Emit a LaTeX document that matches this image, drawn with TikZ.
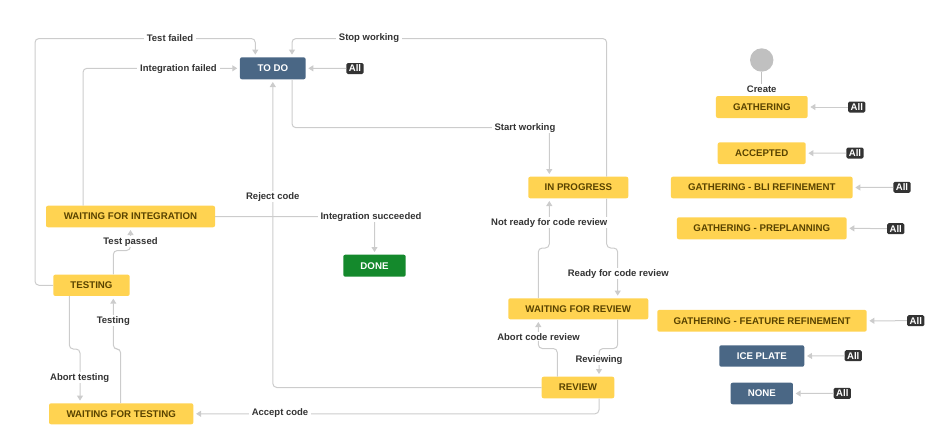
\documentclass[tikz,border=0pt]{standalone}
\usepackage{fontspec}
\setmainfont{Liberation Sans}
\usetikzlibrary{arrows.meta}
\definecolor{jyellow}{HTML}{FFD351}
\definecolor{jytext}{HTML}{594300}
\definecolor{jblue}{HTML}{4A6785}
\definecolor{jgreen}{HTML}{14892C}
\definecolor{jline}{HTML}{CCCCCC}
\definecolor{jlabel}{HTML}{333333}
\definecolor{jstart}{HTML}{C0C0C0}
\tikzset{
  state/.style={rounded corners=2pt, inner sep=0pt, font=\fontsize{9.7}{11}\selectfont\bfseries},
  ystate/.style={state, fill=jyellow, text=jytext},
  bstate/.style={state, fill=jblue, text=white},
  gstate/.style={state, fill=jgreen, text=white},
  conn/.style={draw=jline, line width=1pt, rounded corners=4pt, -{Triangle[width=6pt,length=5pt]}, shorten >=2.5pt},
  lbl/.style={fill=white, text=jlabel, inner xsep=3pt, inner ysep=1pt, font=\fontsize{9.5}{11}\selectfont\bfseries},
  badge/.style={fill=jlabel, text=white, rounded corners=1.5pt, inner xsep=2.5pt, inner ysep=0pt, minimum height=11pt, font=\fontsize{9.6}{10}\selectfont\bfseries},
}
\begin{document}
\begin{tikzpicture}[x=1pt,y=-1pt]
\useasboundingbox (0,0) rectangle (932,440);
% states
\node[bstate, minimum width=65.7pt, minimum height=22pt] (todo) at (272.8,68.3) {TO DO};
\node[ystate, minimum width=100pt, minimum height=21.6pt] (inprog) at (578.3,187.5) {IN PROGRESS};
\node[ystate, minimum width=140pt, minimum height=21pt] (wfr) at (578.3,308.8) {WAITING FOR REVIEW};
\node[ystate, minimum width=72.6pt, minimum height=21.6pt] (review) at (578,387.5) {REVIEW};
\node[ystate, minimum width=169pt, minimum height=21.6pt] (wfi) at (130.5,216.5) {WAITING FOR INTEGRATION};
\node[gstate, minimum width=62.4pt, minimum height=22pt] (done) at (374.5,265.7) {DONE};
\node[ystate, minimum width=76.4pt, minimum height=21.3pt] (testing) at (91.5,285.3) {TESTING};
\node[ystate, minimum width=144.3pt, minimum height=21pt] (wft) at (121.2,413.8) {WAITING FOR TESTING};
\node[ystate, minimum width=91.7pt, minimum height=22pt] (gath) at (761.8,107) {GATHERING};
\node[ystate, minimum width=88pt, minimum height=21.7pt] (acc) at (761.7,153.2) {ACCEPTED};
\node[ystate, minimum width=181.7pt, minimum height=21.6pt] (bli) at (761.8,187.5) {GATHERING - BLI REFINEMENT};
\node[ystate, minimum width=169.7pt, minimum height=22pt] (prep) at (761.8,228.3) {GATHERING - PREPLANNING};
\node[ystate, minimum width=209.4pt, minimum height=21.7pt] (feat) at (762,320.8) {GATHERING - FEATURE REFINEMENT};
\node[bstate, minimum width=85pt, minimum height=21.4pt] (ice) at (761.8,356) {ICE PLATE};
\node[bstate, minimum width=62.3pt, minimum height=21.6pt] (none) at (761.8,393.5) {NONE};
% start
\node[circle, fill=jstart, inner sep=0pt, minimum size=23.4pt] (start) at (761.7,60) {};
\node[text=jlabel, inner sep=1pt, font=\fontsize{9.5}{11}\selectfont\bfseries] (create) at (761.7,89) {Create};
\draw[draw=jstart, line width=1.2pt] (start.south) -- (create.north);
% badges
\node[badge] (allTodo) at (355,68.5) {All};
\node[badge] (allG) at (856.8,107) {All};
\node[badge] (allA) at (855,153) {All};
\node[badge] (allB) at (902,187.3) {All};
\node[badge] (allP) at (895.7,228.7) {All};
\node[badge] (allF) at (915.8,320.7) {All};
\node[badge] (allI) at (853.2,355.7) {All};
\node[badge] (allN) at (842.3,393.3) {All};
\draw[conn] (allTodo) -- (todo.east);
\draw[conn] (allG) -- (gath.east);
\draw[conn] (allA) -- (acc.east);
\draw[conn] (allB) -- (bli.east);
\draw[conn] (allP) -- (prep.east);
\draw[conn] (allF) -- (feat.east);
\draw[conn] (allI) -- (ice.east);
\draw[conn] (allN) -- (none.east);
% connectors
\draw[conn] (testing.west) -| (35,38.5) -| ([xshift=-17.5pt]todo.north);
\draw[conn] ([xshift=-47.5pt]wfi.north) |- (todo.west);
\draw[conn] ([xshift=28.4pt]inprog.north) |- (292,38.5) -- ([xshift=19.2pt]todo.north);
\draw[conn] ([xshift=19.2pt]todo.south) |- (549.3,127.7) -- ([xshift=-29pt]inprog.north);
\draw[conn] ([xshift=-40pt]wfr.north) |- (549.3,248) -- ([xshift=-29pt]inprog.south);
\draw[conn] ([xshift=28.4pt]inprog.south) |- (617.7,248) -- ([xshift=39.4pt]wfr.north);
\draw[conn] ([xshift=-20.7pt]review.north) |- (538.3,348.5) -- ([xshift=-40pt]wfr.south);
\draw[conn] ([xshift=39.4pt]wfr.south) |- (599,348.5) -- ([xshift=21pt]review.north);
\draw[conn] (review.west) -| (todo.south);
\draw[conn] ([xshift=21pt]review.south) |- (wft.east);
\draw[conn] (wfi.east) -| (done.north);
\draw[conn] ([xshift=21.8pt]testing.north) |- (130.5,250.5) -- (wfi.south);
\draw[conn] ([xshift=-22.2pt]testing.south) |- (80,349) -- ([xshift=-41.2pt]wft.north);
\draw[conn] ([xshift=-0.5pt]wft.north) |- (113.3,349) -- ([xshift=21.8pt]testing.south);
% labels
\node[lbl] (lTestFailed) at (170,38.5) {Test failed};
\node[lbl] (lIntFailed) at (178.5,68.7) {Integration failed};
\node[lbl] (lStop) at (369,38.5) {Stop working};
\node[lbl] (lStart) at (525,127.7) {Start working};
\node[lbl] (lReject) at (272.8,196.7) {Reject code};
\node[lbl] (lIntSucc) at (371,216.7) {Integration succeeded};
\node[lbl] (lNotReady) at (549.3,222.7) {Not ready for code review};
\node[lbl] (lReady) at (618.3,273.7) {Ready for code review};
\node[lbl] (lAbortCR) at (538.5,336.7) {Abort code review};
\node[lbl] (lReviewing) at (599,360) {Reviewing};
\node[lbl] (lPassed) at (130.5,241.7) {Test passed};
\node[lbl] (lTesting) at (113.3,320.7) {Testing};
\node[lbl] (lAbortT) at (79.7,377.7) {Abort testing};
\node[lbl] (lAccept) at (280,413.3) {Accept code};
\end{tikzpicture}
\end{document}
